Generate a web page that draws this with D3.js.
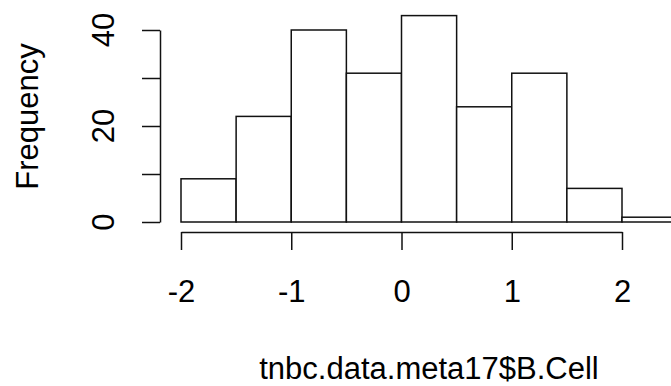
<!DOCTYPE html>
<html>
<head>
<meta charset="utf-8">
<script src="https://cdn.jsdelivr.net/npm/d3@7"></script>
<style>
  html, body { margin: 0; padding: 0; background: #fff; }
  svg { display: block; }
  text { font-family: "Liberation Sans", Arial, sans-serif; fill: #000; }
</style>
</head>
<body>
<div id="chart"></div>
<script>
// Histogram of B-cell scores: bins of width 0.5 starting at -2
const binStarts = [-2, -1.5, -1, -0.5, 0, 0.5, 1, 1.5, 2];
const binWidth = 0.5;
const counts = [9, 22, 40, 31, 43, 24, 31, 7, 1];

const xTicks = [-2, -1, 0, 1, 2];
const xTickLabels = ["-2", "-1", "0", "1", "2"];
const yTicks = [0, 10, 20, 30, 40];
const yTickLabels = ["0", "", "20", "", "40"];

const xTitle = "tnbc.data.meta17$B.Cell";
const yTitle = "Frequency";

const W = 671, H = 386;
const fontSize = 31;

const svg = d3.select("#chart").append("svg")
  .attr("width", W).attr("height", H);

const x = d3.scaleLinear().domain([-2, 2]).range([181, 622]);
const y = d3.scaleLinear().domain([0, 40]).range([222, 30]);

const stroke = "#111";
const lw = 1.5;

// bars
svg.append("g").selectAll("rect")
  .data(counts.map((c, i) => ({ x0: binStarts[i], x1: binStarts[i] + binWidth, c })))
  .join("rect")
  .attr("x", d => x(d.x0))
  .attr("y", d => y(d.c))
  .attr("width", d => x(d.x1) - x(d.x0))
  .attr("height", d => y(0) - y(d.c))
  .attr("fill", "#fff")
  .attr("stroke", stroke)
  .attr("stroke-width", lw);

// x axis
const xAxis = svg.append("g")
  .attr("transform", "translate(0,232)")
  .call(d3.axisBottom(x).tickValues(xTicks).tickSize(18).tickSizeOuter(0)
    .tickFormat((d, i) => xTickLabels[i]));
xAxis.select(".domain").attr("stroke", stroke).attr("stroke-width", lw);
xAxis.selectAll(".tick line").attr("stroke", stroke).attr("stroke-width", lw);
xAxis.selectAll(".tick text")
  .attr("y", 70).attr("dy", 0)
  .style("font-size", fontSize + "px")
  .style("font-family", "'Liberation Sans', Arial, sans-serif")
  .attr("fill", "#000");

// y axis
const yAxis = svg.append("g")
  .attr("transform", "translate(160,0)")
  .call(d3.axisLeft(y).tickValues(yTicks).tickSize(18).tickSizeOuter(0)
    .tickFormat(() => ""));
yAxis.select(".domain").attr("stroke", stroke).attr("stroke-width", lw);
yAxis.selectAll(".tick line").attr("stroke", stroke).attr("stroke-width", lw);

// y tick labels, drawn parallel to the axis
svg.append("g").selectAll("text")
  .data(yTicks.map((v, i) => ({ v, label: yTickLabels[i] })).filter(d => d.label))
  .join("text")
  .attr("transform", d => `translate(114,${y(d.v)}) rotate(-90)`)
  .attr("text-anchor", "middle")
  .style("font-size", fontSize + "px")
  .text(d => d.label);

// axis titles
svg.append("text")
  .attr("x", (161 + 697) / 2)
  .attr("y", 379)
  .attr("text-anchor", "middle")
  .style("font-size", fontSize + "px")
  .text(xTitle);

svg.append("text")
  .attr("transform", `translate(38,${y(22)}) rotate(-90)`)
  .attr("text-anchor", "middle")
  .style("font-size", fontSize + "px")
  .text(yTitle);
</script>
</body>
</html>
